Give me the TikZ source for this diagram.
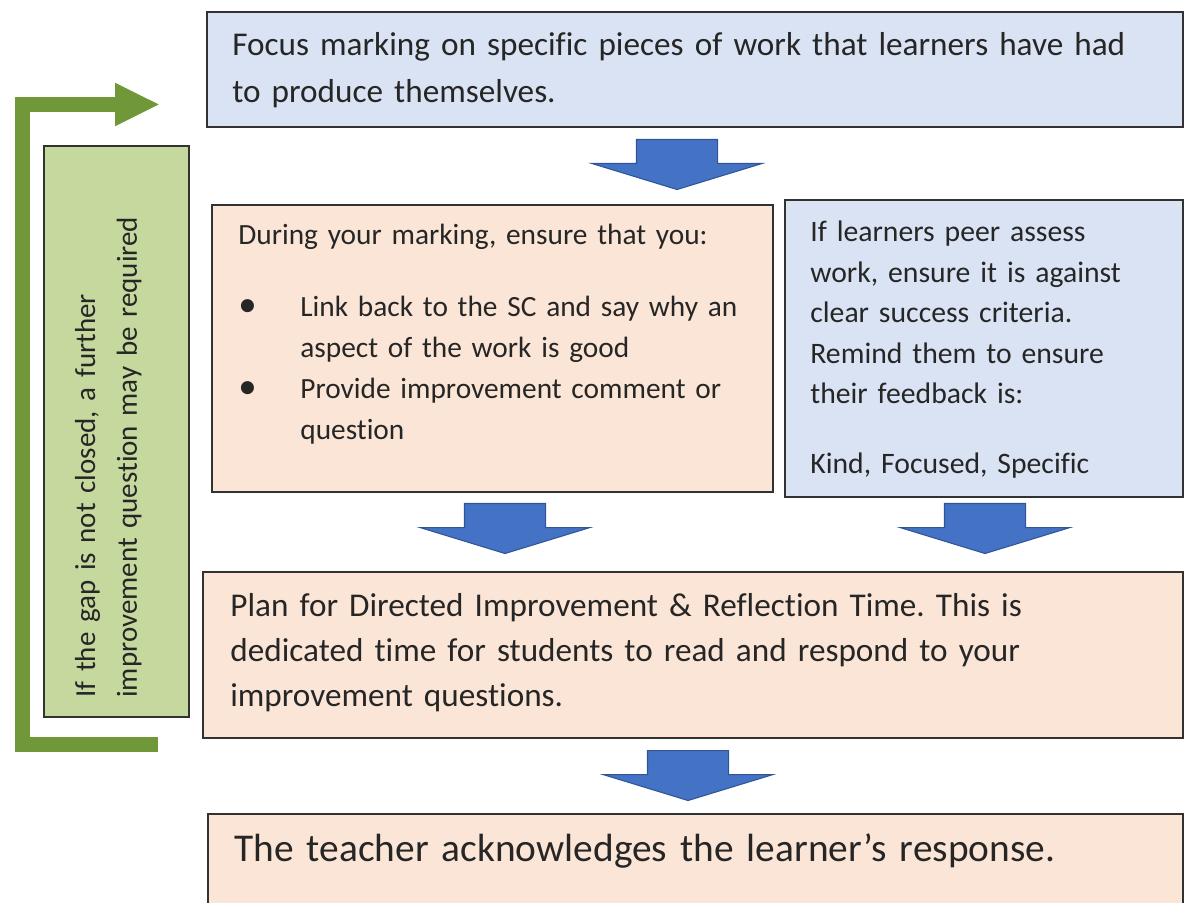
\documentclass[tikz,border=0pt]{standalone}
\usepackage{fontspec}
\setmainfont[Ligatures=NoCommon]{Carlito}
\usetikzlibrary{arrows.meta,shapes.arrows}

\definecolor{boxblue}{RGB}{218,227,243}
\definecolor{boxpeach}{RGB}{251,229,214}
\definecolor{boxgreen}{RGB}{197,217,158}
\definecolor{loopgreen}{RGB}{112,152,56}
\definecolor{arrowblue}{RGB}{68,114,196}
\definecolor{arrowedge}{RGB}{47,85,151}
\definecolor{boxline}{RGB}{50,50,50}
\definecolor{textgray}{RGB}{38,38,38}

% label for the bullet list in the marking box
\newcommand{\bulletlabel}[1]{{\fontsize{21pt}{23pt}\selectfont#1}\hfil}

\begin{document}
\frenchspacing
\begin{tikzpicture}[
    panel/.style={rectangle, draw=boxline, line width=1.1pt, inner sep=0pt},
    bodytext/.style={inner sep=0pt, anchor=base west, align=left, text=textgray},
    blockarrow/.style={single arrow, draw=arrowedge, line width=0.6pt, fill=arrowblue,
                       shape border rotate=270, minimum height=1.0cm, minimum width=3.38cm,
                       single arrow head extend=0.89cm, single arrow tip angle=146,
                       inner xsep=0.8cm, inner ysep=0pt, anchor=tail},
    loopline/.style={draw=loopgreen, line width=0.30cm,
                     -{Triangle[length=0.9cm,width=0.8cm]}}]
\useasboundingbox (0,0) rectangle (23.76,18.04);
% Boxes
\node[panel, fill=boxblue, minimum width=19.52cm, minimum height=2.30cm] (focus) at (13.90,16.65) {};
\node[panel, fill=boxpeach, minimum width=11.22cm, minimum height=5.74cm] (marking) at (9.85,11.07) {};
\node[panel, fill=boxblue, minimum width=7.96cm, minimum height=5.94cm] (peer) at (19.68,11.07) {};
\node[panel, fill=boxpeach, minimum width=19.60cm, minimum height=3.32cm] (plan) at (13.86,4.94) {};
\node[panel, fill=boxpeach, minimum width=19.50cm, minimum height=2.26cm] (respond) at (13.91,0.63) {};
\node[panel, fill=boxgreen, minimum width=2.90cm, minimum height=11.42cm] (loopbox) at (2.33,9.41) {};
% Texts
\node[bodytext, font=\fontsize{18.9pt}{26.7pt}\selectfont, text width=19cm] (focustext) at (4.64,16.92)
  {Focus marking on specific pieces of work that learners have had\\to produce themselves.};
\node[bodytext, font=\fontsize{16.7pt}{23.2pt}\selectfont, text width=10.6cm] (marktext) at (4.76,13.14)
  {During your marking, ensure that you:\par\vspace{0.62cm}%
   \begin{list}{\textbullet}{\setlength{\leftmargin}{1.24cm}\setlength{\labelwidth}{1.24cm}%
     \setlength{\labelsep}{0pt}\setlength{\topsep}{0pt}\setlength{\partopsep}{0pt}%
     \setlength{\itemsep}{0pt}\setlength{\parsep}{0pt}\let\makelabel\bulletlabel}
   \item Link back to the SC and say why an\\aspect of the work is good
   \item Provide improvement comment or\\question
   \end{list}};
\node[bodytext, font=\fontsize{16.9pt}{23.0pt}\selectfont, text width=7.2cm] (peertext) at (16.20,13.20)
  {If learners peer assess\\work, ensure it is against\\clear success criteria.\\Remind them to ensure\\their feedback is:\\[0.58cm]Kind, Focused, Specific};
\node[bodytext, font=\fontsize{18.9pt}{25.6pt}\selectfont, text width=19cm] (plantext) at (4.60,5.70)
  {Plan for Directed Improvement \& Reflection Time. This is\\dedicated time for students to read and respond to your\\improvement questions.};
\node[bodytext, font=\fontsize{22.4pt}{26pt}\selectfont, text width=19cm] (respondtext) at (4.68,0.82)
  {The teacher acknowledges the learner’s response.};
\node[bodytext, rotate=90, font=\fontsize{16.5pt}{23.9pt}\selectfont, text width=11cm] (looptext) at (1.90,4.08)
  {If the gap is not closed, a further\\improvement question may be required};
% Down arrows
\node[blockarrow] (down1) at (13.54,15.26) {};
\node[blockarrow] (down2) at (10.10,7.98) {};
\node[blockarrow] (down3) at (19.70,7.98) {};
\node[blockarrow] (down4) at (13.76,3.04) {};
% Loop back to the top
\coordinate (loopstart) at (3.16,3.15);
\coordinate (loopturn) at (0.44,15.95);
\coordinate (loopend) at (3.20,15.95);
\draw[loopline] (loopstart) -| (loopturn) -- (loopend);
\end{tikzpicture}
\end{document}
